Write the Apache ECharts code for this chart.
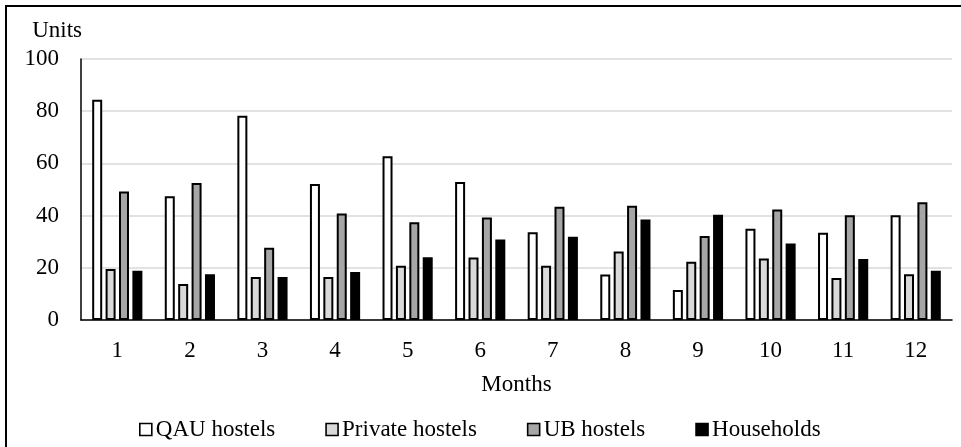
<!DOCTYPE html>
<html>
<head>
<meta charset="utf-8">
<script src="https://cdn.jsdelivr.net/npm/echarts@6/dist/echarts.min.js"></script>
<style>
  html, body { margin: 0; padding: 0; background: #fff; }
  #chart { width: 961px; height: 447px; }
</style>
</head>
<body>
<div id="chart"></div>
<script>
// Monthly units by accommodation type
const months = ['1', '2', '3', '4', '5', '6', '7', '8', '9', '10', '11', '12'];
const qauHostels     = [84.4, 47.4, 78.3, 52.1, 62.7, 52.9, 33.6, 17.4, 11.5, 35.0, 33.4, 40.1];
const privateHostels = [19.5, 13.8, 16.5, 16.5, 20.8, 23.9, 20.8, 26.2, 22.3, 23.6, 16.1, 17.5];
const ubHostels      = [49.2, 52.5, 27.7, 40.8, 37.5, 39.3, 43.4, 43.8, 32.2, 42.3, 40.1, 45.1];
const households     = [18.9, 17.5, 16.5, 18.4, 24.0, 30.8, 31.9, 38.5, 40.3, 29.3, 23.4, 18.9];

const FONT = '"Liberation Serif", "DejaVu Serif", serif';
const txt = { fontFamily: FONT, fontSize: 23, color: '#000' };

function barSeries(name, data, fill) {
  return {
    name: name,
    type: 'bar',
    data: data,
    barWidth: 10,
    barGap: '34%',
    itemStyle: { color: fill, borderColor: '#000', borderWidth: 2 }
  };
}

const chart = echarts.init(document.getElementById('chart'), null, { renderer: 'canvas' });
chart.setOption({
  animation: false,
  backgroundColor: '#fff',
  textStyle: txt,
  graphic: [{
    type: 'rect',
    shape: { x: 6, y: 6, width: 980, height: 470 },
    style: { fill: 'none', stroke: '#000', lineWidth: 2 },
    silent: true
  }],
  grid: { left: 81, right: 9, top: 59, bottom: 127 },
  legend: {
    left: 134,
    top: 413,
    icon: 'rect',
    itemWidth: 12,
    itemHeight: 12,
    itemGap: 50,
    itemStyle: { borderColor: '#000', borderWidth: 1.6 },
    textStyle: Object.assign({}, txt, { padding: [0, 0, 0, -1] }),
    data: ['QAU hostels', 'Private hostels', 'UB hostels', 'Households']
  },
  xAxis: {
    type: 'category',
    data: months,
    name: 'Months',
    nameLocation: 'middle',
    nameGap: 53,
    nameTextStyle: txt,
    axisLine: { lineStyle: { color: '#000', width: 1.5 } },
    axisTick: { show: false },
    axisLabel: Object.assign({}, txt, { margin: 19 })
  },
  yAxis: {
    type: 'value',
    min: 0,
    max: 100,
    interval: 20,
    name: 'Units',
    nameLocation: 'end',
    nameGap: 17,
    nameTextStyle: Object.assign({}, txt, { align: 'right', padding: [0, -1, 0, 0] }),
    axisLine: { show: true, lineStyle: { color: '#000', width: 1.5 } },
    axisTick: { show: false },
    axisLabel: Object.assign({}, txt, { margin: 22 }),
    splitLine: { lineStyle: { color: '#d9d9d9', width: 1.5 } }
  },
  series: [
    barSeries('QAU hostels', qauHostels, '#ffffff'),
    barSeries('Private hostels', privateHostels, '#d9d9d9'),
    barSeries('UB hostels', ubHostels, '#a6a6a6'),
    barSeries('Households', households, '#000000')
  ]
});
</script>
</body>
</html>
